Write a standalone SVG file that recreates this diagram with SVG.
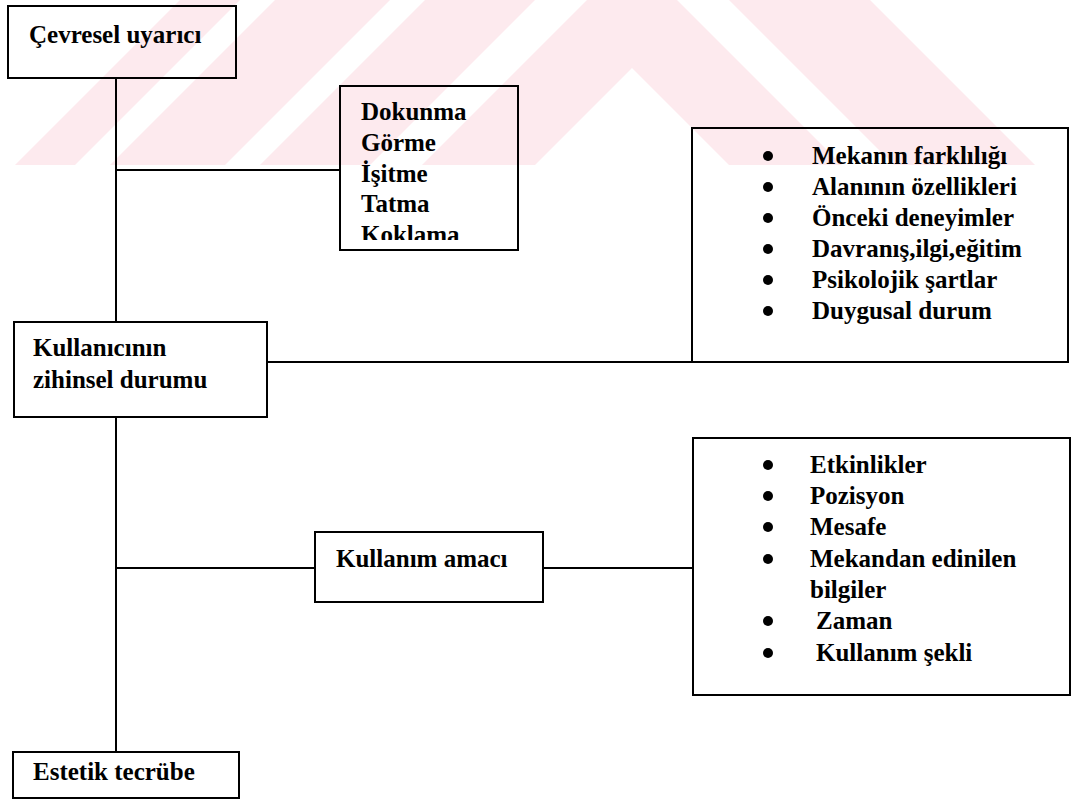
<svg xmlns="http://www.w3.org/2000/svg" width="1075" height="799" viewBox="0 0 1075 799">
  <style>
    .wm { fill: #fdeaee; stroke: none; }
    .box { fill: none; stroke: #000; stroke-width: 2; }
    .ln { fill: none; stroke: #000; stroke-width: 2; }
    .t { font-family: "Liberation Serif", "Times New Roman", serif; font-weight: bold; font-size: 25px; fill: #000; }
    .dot { fill: #000; }
  </style>
  <defs>
    <clipPath id="clipSenses">
      <rect x="340" y="86" width="178" height="154"/>
    </clipPath>
  </defs>
  <rect x="0" y="0" width="1075" height="799" fill="#fff"/>
  <g id="watermark">
    <polygon class="wm" points="15,165 75,165 240,0 180,0"/>
    <polygon class="wm" points="110,165 225,165 390,0 275,0"/>
    <polygon class="wm" points="260,165 370,165 535,0 425,0"/>
    <polygon class="wm" points="422,165 587,0 677,0 842,165 729,165 632,68 535,165"/>
    <polygon class="wm" points="729,0 870,0 1035,165 894,165"/>
  </g>
  <g id="connectors">
    <line class="ln" x1="116" y1="78" x2="116" y2="322"/>
    <line class="ln" x1="116" y1="170" x2="340" y2="170"/>
    <line class="ln" x1="267" y1="362" x2="692" y2="362"/>
    <line class="ln" x1="116" y1="417" x2="116" y2="752"/>
    <line class="ln" x1="116" y1="568" x2="315" y2="568"/>
    <line class="ln" x1="543" y1="568" x2="693" y2="568"/>
  </g>
  <g id="n-cevresel">
    <rect class="box" x="8" y="6" width="228" height="72"/>
    <text class="t" x="29" y="43">Çevresel uyarıcı</text>
  </g>
  <g id="n-duyular">
    <rect class="box" x="340" y="86" width="178" height="164"/>
    <g clip-path="url(#clipSenses)">
      <text class="t" x="361" y="120">Dokunma</text>
      <text class="t" x="361" y="151">Görme</text>
      <text class="t" x="361" y="182">İşitme</text>
      <text class="t" x="361" y="212">Tatma</text>
      <text class="t" x="361" y="243">Koklama</text>
    </g>
  </g>
  <g id="n-etkenler">
    <rect class="box" x="692" y="128" width="376" height="234"/>
    <circle class="dot" cx="768" cy="156" r="5"/>
    <text class="t" x="812" y="164">Mekanın farklılığı</text>
    <circle class="dot" cx="768" cy="187" r="5"/>
    <text class="t" x="812" y="195">Alanının özellikleri</text>
    <circle class="dot" cx="768" cy="218" r="5"/>
    <text class="t" x="812" y="226">Önceki deneyimler</text>
    <circle class="dot" cx="768" cy="249" r="5"/>
    <text class="t" x="812" y="257">Davranış,ilgi,eğitim</text>
    <circle class="dot" cx="768" cy="280" r="5"/>
    <text class="t" x="812" y="288">Psikolojik şartlar</text>
    <circle class="dot" cx="768" cy="311" r="5"/>
    <text class="t" x="812" y="319">Duygusal durum</text>
  </g>
  <g id="n-zihinsel">
    <rect class="box" x="14" y="322" width="253" height="95"/>
    <text class="t" x="33" y="356">Kullanıcının</text>
    <text class="t" x="33" y="388">zihinsel durumu</text>
  </g>
  <g id="n-amac">
    <rect class="box" x="315" y="532" width="228" height="70"/>
    <text class="t" x="336" y="567">Kullanım amacı</text>
  </g>
  <g id="n-kullanim">
    <rect class="box" x="693" y="438" width="377" height="257"/>
    <circle class="dot" cx="768" cy="465" r="5"/>
    <text class="t" x="810" y="473">Etkinlikler</text>
    <circle class="dot" cx="768" cy="496" r="5"/>
    <text class="t" x="810" y="504">Pozisyon</text>
    <circle class="dot" cx="768" cy="527" r="5"/>
    <text class="t" x="810" y="535">Mesafe</text>
    <circle class="dot" cx="768" cy="559" r="5"/>
    <text class="t" x="810" y="567">Mekandan edinilen</text>
    <text class="t" x="810" y="598">bilgiler</text>
    <circle class="dot" cx="768" cy="621" r="5"/>
    <text class="t" x="816" y="629">Zaman</text>
    <circle class="dot" cx="768" cy="653" r="5"/>
    <text class="t" x="816" y="661">Kullanım şekli</text>
  </g>
  <g id="n-estetik">
    <rect class="box" x="13" y="752" width="226" height="46"/>
    <text class="t" x="33" y="780">Estetik tecrübe</text>
  </g>
</svg>
